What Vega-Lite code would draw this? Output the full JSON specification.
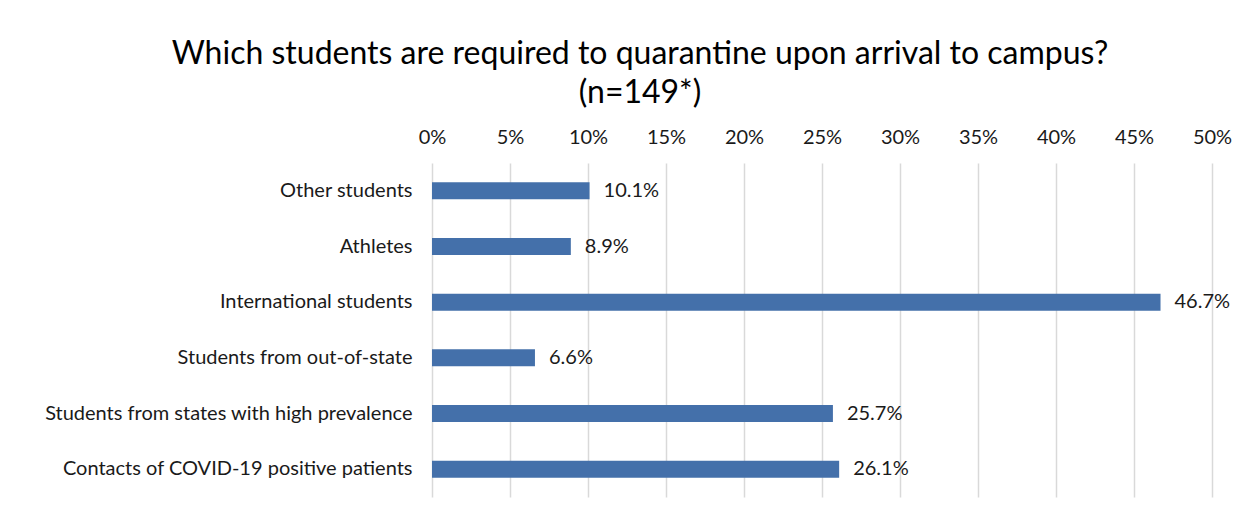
{
  "$schema": "https://vega.github.io/schema/vega-lite/v6.json",
  "autosize": {"type": "none"},
  "width": 780,
  "height": 334,
  "padding": {"left": 432, "top": 163, "right": 37, "bottom": 11},
  "background": "white",
  "title": {
    "text": ["Which students are required to quarantine upon arrival to campus?", "(n=149*)"],
    "font": "Lato",
    "fontSize": 32,
    "fontWeight": "normal",
    "color": "#000000",
    "anchor": "middle",
    "dx": -182,
    "offset": 17,
    "lineHeight": 39
  },
  "data": {
    "values": [
      {"category": "Other students", "value": 0.101},
      {"category": "Athletes", "value": 0.089},
      {"category": "International students", "value": 0.467},
      {"category": "Students from out-of-state", "value": 0.066},
      {"category": "Students from states with high prevalence", "value": 0.257},
      {"category": "Contacts of COVID-19 positive patients", "value": 0.261}
    ]
  },
  "encoding": {
    "y": {
      "field": "category",
      "type": "nominal",
      "sort": null,
      "scale": {"paddingInner": 0.695, "paddingOuter": 0.3475},
      "axis": {
        "title": null,
        "ticks": false,
        "domain": false,
        "labelFont": "Lato",
        "labelFontSize": 20,
        "labelColor": "#1a1a1a",
        "labelPadding": 20,
        "labelLimit": 500
      }
    },
    "x": {
      "field": "value",
      "type": "quantitative",
      "scale": {"domain": [0, 0.5], "nice": false},
      "axis": {
        "orient": "top",
        "title": null,
        "format": ".0%",
        "values": [0, 0.05, 0.1, 0.15, 0.2, 0.25, 0.3, 0.35, 0.4, 0.45, 0.5],
        "ticks": false,
        "domain": false,
        "grid": true,
        "gridColor": "#d9d9d9",
        "gridWidth": 1.5,
        "labelFlush": false,
        "labelFont": "Lato",
        "labelFontSize": 20,
        "labelColor": "#1a1a1a",
        "labelPadding": 16
      }
    }
  },
  "layer": [
    {"mark": {"type": "bar", "color": "#4470AA"}},
    {
      "mark": {"type": "text", "align": "left", "baseline": "middle", "dx": 14, "font": "Lato", "fontSize": 20, "color": "#1a1a1a"},
      "encoding": {"text": {"field": "value", "type": "quantitative", "format": ".1%"}}
    }
  ],
  "config": {"view": {"stroke": null}}
}
